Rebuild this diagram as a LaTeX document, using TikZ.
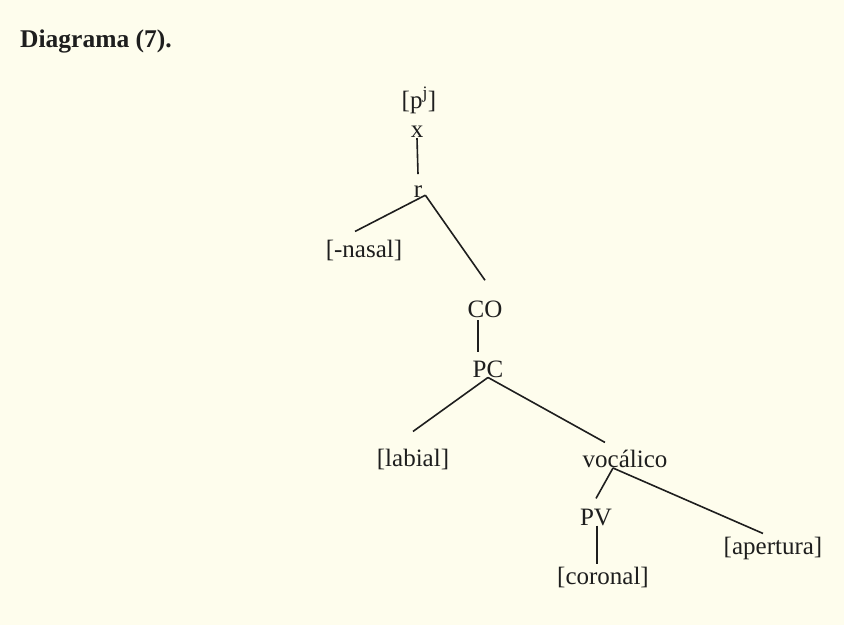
\documentclass[tikz,border=0pt]{standalone}
\usepackage{fontspec}
\setmainfont{Liberation Serif}
\definecolor{bgcream}{RGB}{254,253,237}
\definecolor{ink}{RGB}{30,30,30}
\begin{document}
\begin{tikzpicture}[x=1pt,y=-1pt,
  lbl/.style={inner sep=0pt,anchor=base,text=ink,font=\fontsize{25}{25}\selectfont},
  edge/.style={draw=ink,line width=1.6pt}]
\fill[bgcream] (0,0) rectangle (844,625);
\useasboundingbox (0,0) rectangle (844,625);
\node[inner sep=0pt,anchor=base west,text=ink,font=\bfseries\fontsize{25.5}{25.5}\selectfont] (title) at (20,47) {Diagrama (7).};
\node[lbl] (pj) at (419,108) {[p\textsuperscript{j}]};
\node[lbl] (x) at (417,137) {x};
\node[lbl] (r) at (418,197) {r};
\node[lbl] (nasal) at (364,257) {[-nasal]};
\node[lbl] (CO) at (485,317) {CO};
\node[lbl] (PC) at (488,377) {PC};
\node[lbl] (labial) at (413,466) {[labial]};
\node[lbl] (voc) at (625,467) {vocálico};
\node[lbl] (PV) at (596,525) {PV};
\node[lbl] (apert) at (773,554) {[apertura]};
\node[lbl] (coron) at (603,584) {[coronal]};
\draw[edge] ([yshift=-1pt]x.south) -- ([yshift=11pt]r.north);
\draw[edge] ([xshift=3pt,yshift=2pt]r.south east) -- ([xshift=-9pt,yshift=8pt]nasal.north);
\draw[edge] ([xshift=3pt,yshift=2pt]r.south east) -- ([yshift=20pt]CO.north);
\draw[edge] ([xshift=-7pt,yshift=-3pt]CO.south) -- ([xshift=-10pt,yshift=8pt]PC.north);
\draw[edge] (PC.south) -- ([yshift=17pt]labial.north);
\draw[edge] (PC.south) -- ([xshift=-20pt,yshift=7pt]voc.north);
\draw[edge] ([xshift=-12pt,yshift=-1pt]voc.base) -- ([yshift=10pt]PV.north);
\draw[edge] ([xshift=-12pt,yshift=-1pt]voc.base) -- ([xshift=-10pt,yshift=3pt]apert.north);
\draw[edge] ([xshift=1pt]PV.south) -- ([xshift=-6pt,yshift=2pt]coron.north);
\end{tikzpicture}
\end{document}
